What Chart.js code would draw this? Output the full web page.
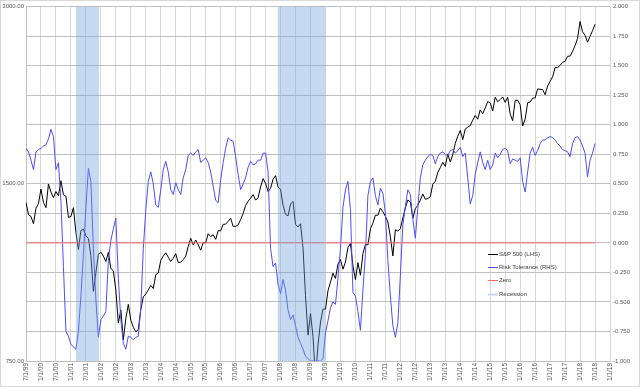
<!DOCTYPE html>
<html>
<head>
<meta charset="utf-8">
<script src="https://cdn.jsdelivr.net/npm/chart.js@4.4.1/dist/chart.umd.min.js"></script>
<style>
html,body{margin:0;padding:0;background:#ffffff;}
canvas{display:block;}
</style>
</head>
<body>
<canvas id="c" width="640" height="387"></canvas>
<script>
// ---- tick labels ----
const tickLabels = ['7/1/99','1/1/00','7/1/00','1/1/01','7/1/01','1/1/02','7/1/02','1/1/03','7/1/03','1/1/04',
  '7/1/04','1/1/05','7/1/05','1/1/06','7/1/06','1/1/07','7/1/07','1/1/08','7/1/08','1/1/09',
  '7/1/09','1/1/10','7/1/10','1/1/11','7/1/11','1/1/12','7/1/12','1/1/13','7/1/13','1/1/14',
  '7/1/14','1/1/15','7/1/15','1/1/16','7/1/16','1/1/17','7/1/17','1/1/18','7/1/18','1/1/19'];
const leftTicks = [750, 1500, 3000];
const rightTicks = [-1, -0.75, -0.5, -0.25, 0, 0.25, 0.5, 0.75, 1, 1.25, 1.5, 1.75, 2];

// ---- series (monthly, starting 7/1/99) ----
const spx = [
1395,1329,1320,1283,1363,1389,1469,1394,1366,1499,
1452,1421,1455,1431,1518,1437,1429,1315,1320,1366,
1240,1160,1249,1256,1224,1211,1134,985,1060,1139,
1148,1130,1107,1147,1077,1067,990,870,916,815,
886,936,880,856,841,848,917,964,975,990,
1008,996,1051,1058,1112,1131,1145,1126,1107,1121,
1141,1102,1104,1115,1130,1174,1212,1181,1204,1181,
1157,1192,1191,1234,1220,1229,1207,1249,1248,1280,
1281,1295,1311,1270,1270,1277,1304,1336,1378,1401,
1418,1438,1407,1421,1482,1531,1503,1455,1474,1527,
1549,1481,1468,1379,1331,1323,1386,1400,1280,1267,
1283,1166,968,830,903,826,700,798,873,919,
919,987,1021,1057,1036,1096,1115,1074,1104,1169,
1187,1089,1031,1102,1049,1141,1183,1181,1258,1286,
1327,1326,1364,1345,1321,1292,1219,1131,1253,1247,
1258,1312,1366,1408,1398,1310,1362,1379,1407,1441,
1412,1416,1426,1498,1515,1569,1598,1631,1606,1686,
1633,1682,1757,1806,1848,1783,1859,1872,1884,1924,
1960,1931,2003,1972,2018,2068,2059,1995,2105,2068,
2086,2107,2063,2104,1972,1920,2079,2080,2044,1880,
1932,2060,2065,2097,2099,2174,2171,2168,2126,2199,
2239,2279,2364,2363,2384,2412,2423,2470,2472,2519,
2575,2648,2830,2720,2680,2610,2670,2730,2800
];
const risk = [
0.80,0.77,0.70,0.62,0.77,0.79,0.80,0.82,0.83,0.88,
0.96,0.90,0.62,0.68,0.35,-0.20,-0.75,-0.79,-0.86,-0.88,
-0.90,-0.75,-0.45,-0.10,0.30,0.63,0.52,-0.05,-0.48,-0.80,
-0.65,-0.62,-0.58,-0.15,0.02,0.12,0.21,-0.30,-0.65,-0.85,
-0.90,-0.79,-0.80,-0.82,-0.80,-0.79,-0.55,-0.05,0.28,0.52,
0.60,0.50,0.32,0.30,0.45,0.62,0.69,0.60,0.45,0.41,
0.51,0.45,0.41,0.55,0.62,0.74,0.76,0.74,0.77,0.79,
0.68,0.70,0.72,0.68,0.60,0.48,0.36,0.34,0.53,0.68,
0.80,0.89,0.87,0.86,0.73,0.58,0.45,0.50,0.55,0.64,
0.69,0.66,0.67,0.70,0.70,0.76,0.76,0.60,-0.05,-0.20,
-0.17,-0.35,-0.43,-0.31,-0.40,-0.57,-0.65,-0.61,-0.70,-0.80,
-0.85,-0.90,-0.96,-0.98,-1.00,-1.00,-1.00,-1.00,-1.00,-0.98,
-0.76,-0.66,-0.55,-0.50,-0.52,-0.30,-0.05,0.30,0.45,0.52,
0.28,-0.42,-0.45,-0.58,-0.74,-0.40,-0.10,0.40,0.52,0.55,
0.40,0.32,0.46,0.42,0.25,-0.15,-0.45,-0.70,-0.80,-0.68,
-0.28,0.15,0.31,0.45,0.41,0.20,0.04,0.30,0.55,0.66,
0.70,0.73,0.75,0.74,0.67,0.73,0.76,0.77,0.75,0.74,
0.78,0.79,0.76,0.78,0.81,0.73,0.76,0.55,0.33,0.40,
0.58,0.68,0.77,0.68,0.62,0.70,0.62,0.66,0.76,0.72,
0.75,0.79,0.80,0.78,0.67,0.71,0.70,0.69,0.72,0.52,
0.43,0.60,0.76,0.81,0.74,0.78,0.84,0.87,0.87,0.89,
0.90,0.89,0.87,0.84,0.82,0.79,0.78,0.77,0.73,0.84,
0.89,0.90,0.87,0.82,0.76,0.56,0.70,0.76,0.84
];
// recession periods (in months since 7/1/99)
const recStart = [20, 100.8];
const recEnd = [29.3, 120];
const seriesNames = ['S&P 500 (LHS)', 'Risk Tolerance (RHS)', 'Zero', 'Recession'];

// ---- build library data ----
const months = spx.map((_, i) => i);
const zero = months.map(() => 0);
const recession = [];
recStart.forEach((s, i) => {
  recession.push({x: s, y: 2}, {x: recEnd[i], y: 2}, {x: recEnd[i], y: null});
});

const txt = '#595959';
const fam = '"Liberation Sans", Arial, sans-serif';

const legendPlugin = {
  id: 'insideLegend',
  afterDraw(chart) {
    const ctx = chart.ctx;
    const rows = [254, 267, 280, 294];
    ctx.save();
    ctx.font = '6px ' + fam;
    ctx.textBaseline = 'middle';
    ctx.textAlign = 'left';
    chart.data.datasets.forEach((ds, i) => {
      const y = rows[i] + 0.5;
      ctx.strokeStyle = ds.legendColor || ds.borderColor;
      ctx.lineWidth = ds.legendWidth || 1;
      ctx.beginPath();
      ctx.moveTo(488, y);
      ctx.lineTo(498, y);
      ctx.stroke();
      ctx.fillStyle = '#404040';
      ctx.fillText(ds.label, 499, y);
    });
    ctx.strokeStyle = '#d9d9d9';
    ctx.lineWidth = 1;
    ctx.strokeRect(0.5, 0.5, 639, 386);
    ctx.restore();
  }
};

new Chart(document.getElementById('c'), {
  type: 'line',
  data: {
    labels: months,
    datasets: [
      {label: seriesNames[0], data: spx, yAxisID: 'y', borderColor: '#000000', borderWidth: 1, order: 3},
      {label: seriesNames[1], data: risk, yAxisID: 'y2', borderColor: '#4d4dff', borderWidth: 1, order: 2},
      {label: seriesNames[2], data: zero, yAxisID: 'y2', borderColor: '#ff6666', borderWidth: 1, order: 1},
      {label: seriesNames[3], data: recession, yAxisID: 'y2', borderColor: 'rgba(0,0,0,0)', borderWidth: 0,
       backgroundColor: 'rgba(110,160,220,0.4)', fill: 'start', spanGaps: false, order: 0,
       legendColor: '#c5d9f1', legendWidth: 2}
    ]
  },
  options: {
    responsive: false,
    animation: false,
    devicePixelRatio: 1,
    layout: {padding: {top: 6, left: 0, right: 0, bottom: 0}},
    plugins: {legend: {display: false}, tooltip: {enabled: false}},
    elements: {point: {radius: 0}, line: {tension: 0}},
    scales: {
      x: {
        type: 'linear', min: 0, max: 234, position: 'bottom',
        afterBuildTicks: s => { s.ticks = tickLabels.map((_, i) => ({value: i * 6})); },
        ticks: {autoSkip: false, maxRotation: 90, minRotation: 90, padding: 2, color: txt,
                font: {family: fam, size: 6.5}, callback: (v, i) => tickLabels[i]},
        grid: {color: '#d9d9d9', lineWidth: 1, drawTicks: false},
        border: {display: true, color: '#bfbfbf'},
        afterFit: s => { s.height = 26; }
      },
      y: {
        type: 'logarithmic', position: 'left', min: 750, max: 3000,
        afterBuildTicks: s => { s.ticks = leftTicks.map(v => ({value: v})); },
        ticks: {padding: 2, color: txt, font: {family: fam, size: 6}, callback: v => Number(v).toFixed(2)},
        grid: {display: false, drawTicks: false},
        border: {display: true, color: '#bfbfbf'},
        afterFit: s => { s.width = 26; }
      },
      y2: {
        type: 'linear', position: 'right', min: -1, max: 2,
        afterBuildTicks: s => { s.ticks = rightTicks.map(v => ({value: v})); },
        ticks: {padding: 3, color: txt, font: {family: fam, size: 6}, callback: v => Number(v).toFixed(3)},
        grid: {color: '#c0c0c0', lineWidth: 1, drawTicks: false},
        border: {display: false},
        afterFit: s => { s.width = 30; }
      }
    }
  },
  plugins: [legendPlugin]
});
</script>
</body>
</html>
